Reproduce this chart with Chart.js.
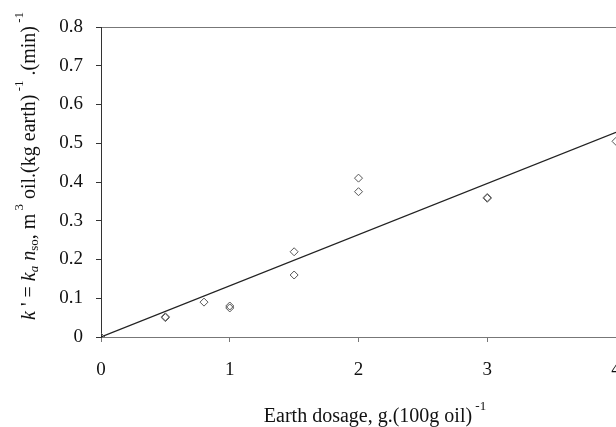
<!DOCTYPE html>
<html>
<head>
<meta charset="utf-8">
<script src="https://cdn.jsdelivr.net/npm/chart.js@4"></script>
<style>
  html, body { margin: 0; padding: 0; background: #fff; overflow: hidden; }
  #wrap { width: 640px; height: 427px; }
</style>
</head>
<body>
<div id="wrap"><canvas id="myChart" width="640" height="427"></canvas></div>
<script>
const dosage = [0, 0.5, 0.5, 0.8, 1, 1, 1.5, 1.5, 2, 2, 3, 3, 4];
const kPrime = [0, 0.05, 0.052, 0.09, 0.075, 0.08, 0.22, 0.16, 0.41, 0.375, 0.36, 0.358, 0.505];
const fitX = [0, 4];
const fitY = [0, 0.528];
const xTicks = [0, 1, 2, 3, 4];
const yTicks = [0, 0.1, 0.2, 0.3, 0.4, 0.5, 0.6, 0.7, 0.8];

const serif = "'Liberation Serif', 'Times New Roman', serif";

// axis titles with italics / sub / superscripts, drawn as text runs
const yTitleRuns = [
  {t: "k", it: true}, {t: " ' = "}, {t: "k", it: true}, {t: "a", it: true, sub: true},
  {t: " "}, {t: "n", it: true}, {t: "so", sub: true}, {t: ", m"}, {t: " 3", sup: true},
  {t: " oil.(kg earth)"}, {t: " -1", sup: true}, {t: " .(min)"}, {t: " -1", sup: true}
];
const xTitleRuns = [
  {t: "Earth dosage, g.(100g oil)"}, {t: " -1", sup: true}
];

function drawRuns(ctx, runs, cx, cy, angle) {
  const size = 20, small = 13;
  const fontOf = r => (r.it ? 'italic ' : '') + ((r.sub || r.sup) ? small : size) + 'px ' + serif;
  let total = 0;
  runs.forEach(r => { ctx.font = fontOf(r); total += ctx.measureText(r.t).width; });
  ctx.save();
  ctx.translate(cx, cy);
  ctx.rotate(angle);
  ctx.fillStyle = '#111';
  ctx.textBaseline = 'alphabetic';
  ctx.textAlign = 'left';
  let x = -total / 2;
  runs.forEach(r => {
    ctx.font = fontOf(r);
    const dy = r.sub ? 3 : (r.sup ? -12 : 0);
    ctx.fillText(r.t, x, dy);
    x += ctx.measureText(r.t).width;
  });
  ctx.restore();
}

const titlePlugin = {
  id: 'titles',
  afterDraw(chart) {
    drawRuns(chart.ctx, yTitleRuns, 35, 166, -Math.PI / 2);
    drawRuns(chart.ctx, xTitleRuns, 375, 422, 0);
  }
};

new Chart("myChart", {
  data: {
    datasets: [{
      type: 'scatter',
      label: 'data',
      data: dosage.map((d, i) => ({x: d, y: kPrime[i]})),
      pointStyle: 'rectRot',
      pointRadius: 4,
      pointBorderWidth: 1,
      pointBorderColor: '#555',
      pointBackgroundColor: 'rgba(255,255,255,0)'
    }, {
      type: 'line',
      label: 'fit',
      data: fitX.map((d, i) => ({x: d, y: fitY[i]})),
      borderColor: '#222',
      borderWidth: 1.2,
      pointRadius: 0,
      fill: false
    }]
  },
  options: {
    responsive: false,
    animation: false,
    layout: {padding: {top: 27, right: 24, left: 0, bottom: 0}},
    plugins: {legend: {display: false}, tooltip: {enabled: false}},
    scales: {
      x: {
        type: 'linear',
        min: 0, max: 4,
        afterBuildTicks: s => { s.ticks = xTicks.map(v => ({value: v})); },
        border: {display: true, color: '#777', width: 1},
        grid: {drawOnChartArea: false, drawTicks: true, tickLength: 5, color: '#777'},
        ticks: {color: '#111', font: {family: serif, size: 19}, padding: 17},
        afterFit: s => { s.height = 90; }
      },
      xTop: {
        type: 'linear', position: 'top', min: 0, max: 4,
        border: {display: true, color: '#777', width: 1},
        grid: {display: false},
        ticks: {display: false},
        afterFit: s => { s.height = 0; }
      },
      y: {
        min: 0, max: 0.8,
        afterBuildTicks: s => { s.ticks = yTicks.map(v => ({value: v})); },
        border: {display: true, color: '#333', width: 1},
        grid: {drawOnChartArea: false, drawTicks: true, tickLength: 5, color: '#333'},
        ticks: {color: '#111', font: {family: serif, size: 19}, padding: 13},
        afterFit: s => { s.width = 101; }
      }
    }
  },
  plugins: [titlePlugin]
});
</script>
</body>
</html>
